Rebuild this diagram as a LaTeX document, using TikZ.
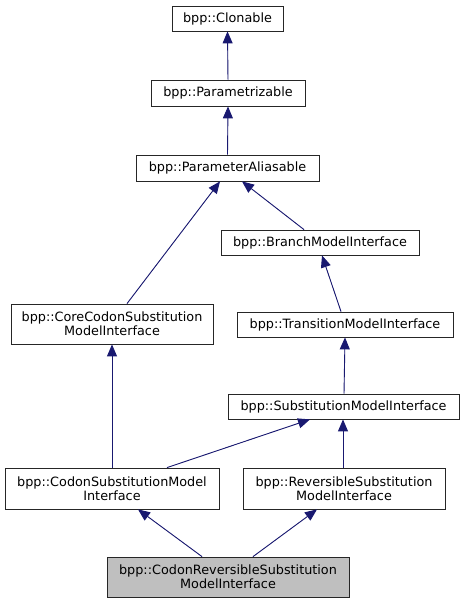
\documentclass[tikz,border=0pt]{standalone}
\usepackage{fontspec}
\setmainfont{DejaVu Sans}
\usetikzlibrary{arrows.meta}
\definecolor{edgeblue}{RGB}{25,25,112}
\definecolor{targetgray}{RGB}{191,191,191}
\begin{document}
\begin{tikzpicture}[x=1pt,y=-1pt,
  box/.style={draw=black!85, line width=0.8pt, fill=white, inner sep=0pt, align=center,
    font=\fontsize{12.8}{14.3}\selectfont},
  tbox/.style={box, fill=targetgray},
  inh/.style={draw=edgeblue, line width=0.9pt, -{Triangle[length=12pt,width=10pt]}, fill=edgeblue}]
\useasboundingbox (0,0) rectangle (465,604);
\node[box, minimum width=111pt, minimum height=25pt] (clon) at (227.5,18.5) {bpp::Clonable};
\node[box, minimum width=154pt, minimum height=26pt] (param) at (228,93) {bpp::Parametrizable};
\node[box, minimum width=183pt, minimum height=26pt] (alias) at (227.5,168) {bpp::ParameterAliasable};
\node[box, minimum width=198pt, minimum height=25pt] (branch) at (320,242.5) {bpp::BranchModelInterface};
\node[box, minimum width=202pt, minimum height=40pt] (core) at (112,324) {bpp::CoreCodonSubstitution\\ModelInterface};
\node[box, minimum width=216pt, minimum height=25pt] (trans) at (345,324.5) {bpp::TransitionModelInterface};
\node[box, minimum width=231pt, minimum height=25pt] (subst) at (343.5,406.5) {bpp::SubstitutionModelInterface};
\node[box, minimum width=214pt, minimum height=41pt] (codon) at (112,488.5) {bpp::CodonSubstitutionModel\\Interface};
\node[box, minimum width=202pt, minimum height=41pt] (rev) at (344,488.5) {bpp::ReversibleSubstitution\\ModelInterface};
\node[tbox, minimum width=242pt, minimum height=40pt] (target) at (228,577) {bpp::CodonReversibleSubstitution\\ModelInterface};

\draw[inh] (param.north) -- (clon.south);
\draw[inh] (alias.north) -- (param.south);
\draw[inh] ([xshift=15pt]core.north) -- ([xshift=-7.5pt]alias.south);
\draw[inh] ([xshift=-16pt]branch.north) -- ([xshift=14.5pt]alias.south);
\draw[inh] ([xshift=-4pt]trans.north) -- ([xshift=2pt]branch.south);
\draw[inh] ([xshift=0.5pt]subst.north) -- (trans.south);
\draw[inh] (codon.north) -- (core.south);
\draw[inh] ([xshift=55pt]codon.north) -- ([xshift=-33.5pt]subst.south);
\draw[inh] ([xshift=-1pt]rev.north) -- ([xshift=-0.5pt]subst.south);
\draw[inh] ([xshift=-26pt]target.north) -- ([xshift=26pt]codon.south);
\draw[inh] ([xshift=25pt]target.north) -- ([xshift=-27pt]rev.south);
\end{tikzpicture}
\end{document}
